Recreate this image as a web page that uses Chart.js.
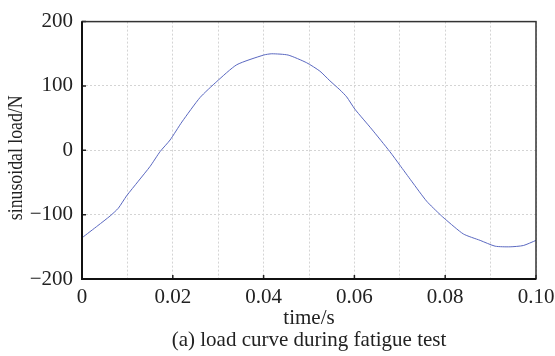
<!DOCTYPE html>
<html>
<head>
<meta charset="utf-8">
<script src="https://cdn.jsdelivr.net/npm/chart.js@4.4.0/dist/chart.umd.min.js"></script>
<style>
html,body{margin:0;padding:0;background:#fff;}
canvas{display:block;}
</style>
</head>
<body>
<canvas id="c" width="555" height="356"></canvas>
<script>
const timeS = [0, 0.0035, 0.0062, 0.0080, 0.0098, 0.0124, 0.0150, 0.0172, 0.0194, 0.0220, 0.0260, 0.0297, 0.0341, 0.0400, 0.0418, 0.0454, 0.0495, 0.0524, 0.0546, 0.0568, 0.0583, 0.0601, 0.0638, 0.0678, 0.0700, 0.0726, 0.0759, 0.0789, 0.0800, 0.0840, 0.0877, 0.0910, 0.0943, 0.0972, 0.1000];
const loadN = [-136, -117, -102, -90, -71, -48, -25, -2, 16, 44, 82, 107, 133, 148, 150, 148, 136, 123, 108, 94, 83, 64, 33, -2, -23, -48, -79, -100, -107, -130, -140, -149, -150, -148, -140];
const xTickLabels = ['0', '0.02', '0.04', '0.06', '0.08', '0.10'];
const yTickValues = [-200, -100, 0, 100, 200];
const xTitle = 'time/s';
const caption = '(a) load curve during fatigue test';
const yTitle = 'sinusoidal load/N';

const FONT = "'Liberation Serif', 'Times New Roman', serif";
const points = timeS.map((t, i) => ({x: t, y: loadN[i]}));

const framePlugin = {
  id: 'frame',
  afterDraw(chart) {
    const {ctx, chartArea: a, scales} = chart;
    ctx.save();
    ctx.strokeStyle = '#222';
    ctx.lineWidth = 1.5;
    ctx.beginPath();
    xTickLabels.forEach(l => {
      const px = scales.x.getPixelForValue(parseFloat(l));
      ctx.moveTo(px, a.bottom); ctx.lineTo(px, a.bottom - 4);
    });
    yTickValues.forEach(v => {
      const py = scales.y.getPixelForValue(v);
      ctx.moveTo(a.left, py); ctx.lineTo(a.left + 4, py);
    });
    ctx.stroke();
    ctx.strokeStyle = '#333';
    ctx.lineWidth = 1.5;
    ctx.strokeRect(a.left, a.top, a.right - a.left, a.bottom - a.top);
    ctx.strokeStyle = '#111';
    ctx.lineWidth = 2;
    ctx.beginPath();
    ctx.moveTo(a.left, a.top); ctx.lineTo(a.left, a.bottom); ctx.lineTo(a.right, a.bottom);
    ctx.stroke();
    // y axis title (condensed, as in the source figure)
    const ys = scales.y;
    ctx.translate(ys.left + 22, (ys.top + ys.bottom) / 2 + 7.5);
    ctx.rotate(-Math.PI / 2);
    ctx.scale(0.845, 1);
    ctx.fillStyle = '#222';
    ctx.font = "21px " + FONT;
    ctx.textAlign = 'center';
    ctx.textBaseline = 'alphabetic';
    ctx.fillText(yTitle, 0, 0);
    ctx.restore();
  }
};

new Chart(document.getElementById('c'), {
  type: 'line',
  data: {
    datasets: [{
      data: points,
      borderColor: '#5a68c0',
      borderWidth: 1,
      pointRadius: 0,
      tension: 0.2,
      fill: false
    }]
  },
  options: {
    responsive: false,
    animation: false,
    events: [],
    layout: {padding: {top: 18, right: 19, left: 0, bottom: 0}},
    plugins: {legend: {display: false}, tooltip: {enabled: false}},
    scales: {
      x: {
        type: 'linear',
        min: 0, max: 0.1,
        afterFit(s) { s.height = 77; s.paddingLeft = 0; s.paddingRight = 0; },
        afterBuildTicks(s) {
          const arr = [];
          for (let i = 0; i <= 10; i++) arr.push({value: i / 100});
          s.ticks = arr;
        },
        ticks: {
          autoSkip: false,
          maxRotation: 0,
          padding: 6,
          color: '#222',
          font: {family: FONT, size: 21},
          callback(v) {
            const i = Math.round(v * 100);
            return i % 2 === 0 ? xTickLabels[i / 2] : '';
          }
        },
        grid: {color: '#d4d4d4', lineWidth: 1, drawTicks: false},
        border: {display: false, dash: [2, 2]},
        title: {
          display: true,
          text: [xTitle, caption],
          color: '#222',
          font: {family: FONT, size: 21, lineHeight: 1.04},
          padding: {top: 0, bottom: 5}
        }
      },
      y: {
        type: 'linear',
        min: -200, max: 200,
        afterFit(s) { s.width = 82; },
        afterBuildTicks(s) { s.ticks = yTickValues.map(v => ({value: v})); },
        ticks: {
          padding: 9,
          color: '#222',
          font: {family: FONT, size: 21},
          callback(v) { return v < 0 ? '\u2212' + Math.abs(v) : String(v); }
        },
        grid: {color: '#d4d4d4', lineWidth: 1, drawTicks: false},
        border: {display: false, dash: [2, 2]},
        title: {display: false}
      }
    }
  },
  plugins: [framePlugin]
});
</script>
</body>
</html>
